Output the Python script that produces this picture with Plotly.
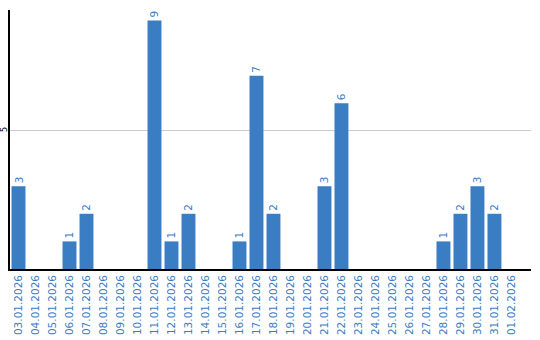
import plotly.graph_objects as go

dates = ["03.01.2026", "04.01.2026", "05.01.2026", "06.01.2026", "07.01.2026",
         "08.01.2026", "09.01.2026", "10.01.2026", "11.01.2026", "12.01.2026",
         "13.01.2026", "14.01.2026", "15.01.2026", "16.01.2026", "17.01.2026",
         "18.01.2026", "19.01.2026", "20.01.2026", "21.01.2026", "22.01.2026",
         "23.01.2026", "24.01.2026", "25.01.2026", "26.01.2026", "27.01.2026",
         "28.01.2026", "29.01.2026", "30.01.2026", "31.01.2026", "01.02.2026"]
values = [3, 0, 0, 1, 2, 0, 0, 0, 9, 1,
          2, 0, 0, 1, 7, 2, 0, 0, 3, 6,
          0, 0, 0, 0, 0, 1, 2, 3, 2, 0]

blue = "#3b7dc3"
font = "DejaVu Sans, Verdana, sans-serif"

fig = go.Figure(go.Bar(
    x=list(range(len(dates))),
    y=values,
    text=[str(v) if v else "" for v in values],
    textposition="outside",
    textangle=-90,
    textfont=dict(color=blue, size=10.5, family=font),
    cliponaxis=False,
    marker=dict(color=blue, line=dict(width=0)),
))

fig.update_layout(
    width=540, height=340,
    margin=dict(l=10, r=9, t=10, b=71),
    paper_bgcolor="white", plot_bgcolor="white",
    bargap=0.18,
    showlegend=False,
    font=dict(family=font),
)
fig.update_xaxes(
    automargin=False,
    range=[-0.5, 30.15],
    tickmode="array", tickvals=list(range(len(dates))), ticktext=dates,
    tickangle=-90,
    tickfont=dict(color=blue, size=10.5, family=font),
    showline=True, linecolor="black", linewidth=1.5,
    showgrid=False, zeroline=False, ticks="",
)
fig.update_yaxes(
    automargin=False,
    range=[0, 9.38],
    tickmode="array", tickvals=[5], ticktext=["5"],
    tickangle=-90,
    ticklabelstandoff=-2,
    tickfont=dict(color="black", size=8.5, family=font),
    showline=True, linecolor="black", linewidth=1.5,
    showgrid=True, gridcolor="#cccccc", gridwidth=1,
    zeroline=False, ticks="",
)

fig.write_html("out.html")
